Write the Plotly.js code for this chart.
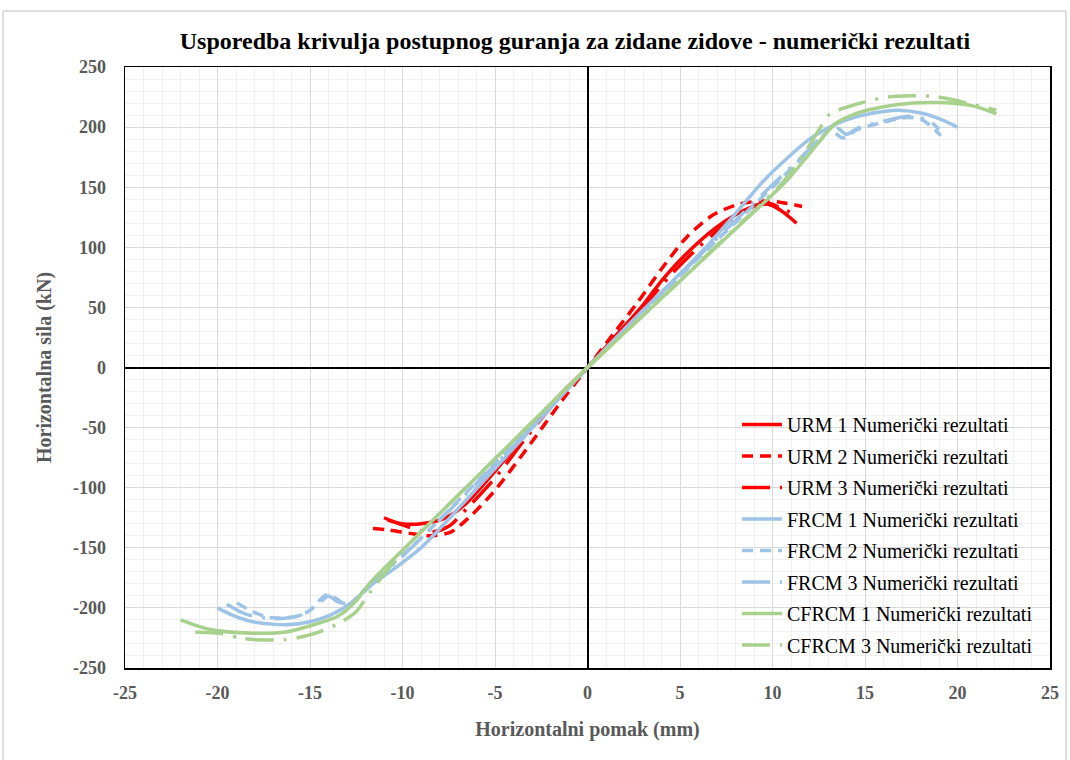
<!DOCTYPE html>
<html><head><meta charset="utf-8">
<script src="https://cdn.plot.ly/plotly-3.0.1.min.js"></script>
<style>html,body{margin:0;padding:0;background:#fff}</style>
</head><body><div id="chart" style="width:1070px;height:760px"></div>
<script>
// ---- Data (horizontal displacement mm, horizontal force kN) ----
const seriesNames = [
  'URM 1 Numerički rezultati', 'URM 2 Numerički rezultati', 'URM 3 Numerički rezultati',
  'FRCM 1 Numerički rezultati', 'FRCM 2 Numerički rezultati', 'FRCM 3 Numerički rezultati',
  'CFRCM 1 Numerički rezultati', 'CFRCM 3 Numerički rezultati'
];

const urm1X = [-10.8, -10, -9, -7.8, -6.7, -5.1, -3.3, -1.5, 0, 1.5, 3, 4.1, 5.5, 7, 8, 8.8, 9.7, 10.2, 10.6, 11.3];
const urm1Y = [-127, -130, -130, -126, -115, -88, -55, -23, 0, 26, 52, 74, 97, 117, 127, 133, 136, 133, 129, 120];

const urm2X = [-11.6, -10.8, -9.6, -8.5, -7.4, -6.35, -5.1, -3.3, -1.5, 0, 1.4, 2.7, 4.1, 5.4, 6.8, 8.2, 9.5, 10.4, 11.6];
const urm2Y = [-134, -135, -138, -140, -137, -124, -104, -68, -30, 0, 28, 54, 84, 109, 127, 136, 138.5, 137.5, 134];

const urm3X = [-11, -10, -8.5, -7.5, -6.5, -5, -3.3, -1.5, 0, 1.5, 3, 4.5, 6, 7.5, 8.5, 9.7, 10.4, 11.1];
const urm3Y = [-125, -131, -137, -132, -117, -92, -58, -24, 0, 25, 50, 77, 100, 120, 131, 137, 133, 128];

const frcm1X = [-20, -19.2, -18.1, -16.3, -15, -13.9, -12.8, -11.8, -10.5, -9, -6.9, -5, -2.5, 0, 2.5, 5, 6.4, 8, 9.5, 11, 12, 13.1, 14, 14.9, 16, 16.8, 18.1, 19, 20];
const frcm1Y = [-200, -206, -211.5, -214, -211.5, -206, -196, -182, -168, -150, -116, -84, -42, 0, 40, 78, 100, 128, 155, 177, 190, 200, 206, 210, 213, 214, 211.5, 207, 200];

const frcm2X = [-18.95, -18.1, -17.2, -15.7, -15, -14.1, -13.5, -13, -12, -10.5, -9, -7, -5, -2.5, 0, 2.5, 5, 7, 8.5, 10, 11.5, 12.5, 13.1, 13.8, 14.6, 16, 17.3, 18.1, 19.1];
const frcm2Y = [-196, -203, -208, -207, -202, -189, -193, -198, -184, -163, -142, -111, -80, -40, 0, 38, 76, 106, 128, 150, 173, 188, 198, 191, 198, 204, 208, 206, 193];

const frcm3X = [-19.5, -18.5, -17, -15.5, -14.5, -14, -13.5, -12.8, -11.5, -10, -8, -5, -2.5, 0, 2.5, 5, 7.5, 10, 11.5, 12.8, 13.5, 14, 14.6, 16, 17.5, 18.5, 19];
const frcm3Y = [-197, -205, -209, -206, -196, -190, -195, -196, -178, -157, -127, -81, -41, 0, 39, 77, 115, 152, 174, 194, 199, 194, 199, 205, 209, 205, 198];

const cfrcm1X = [-22, -20.4, -18.1, -16.3, -14.8, -13.5, -12.5, -11.8, -10, -7.5, -5, -2.5, 0, 2.5, 5, 7.5, 10.8, 12, 12.8, 13.4, 14.3, 15.1, 16, 17.6, 19, 20.1, 21, 22.1];
const cfrcm1Y = [-210, -218, -221, -220, -214, -207, -194, -180, -152, -114, -76, -38, 0, 36, 72, 108, 156, 178, 193, 203, 210, 214, 217, 220, 220.5, 219.5, 217, 211];

const cfrcm3X = [-21.2, -19.7, -18.8, -17.9, -16.4, -15.4, -14.5, -13.4, -12.5, -11.8, -10, -7.5, -5, -2.5, 0, 2.5, 5, 7.5, 10.5, 11.8, 12.6, 13.1, 14, 15, 16.2, 17.5, 18.8, 19.7, 20.5, 22.1];
const cfrcm3Y = [-220, -221.5, -225, -226.5, -226.5, -224, -220, -212.5, -203, -188, -153, -114, -76, -38, 0, 36, 72, 109, 153, 180, 200, 211, 216.5, 221, 225, 226, 225.5, 223, 220, 214];

const xTickVals = [-25, -20, -15, -10, -5, 0, 5, 10, 15, 20, 25];
const xTickText = ['-25', '-20', '-15', '-10', '-5', '0', '5', '10', '15', '20', '25'];
const yTickVals = [-250, -200, -150, -100, -50, 0, 50, 100, 150, 200, 250];
const yTickText = ['-250', '-200', '-150', '-100', '-50', '0', '50', '100', '150', '200', '250'];

const titleText = 'Usporedba krivulja postupnog guranja za zidane zidove - numerički rezultati';
const xTitle = 'Horizontalni pomak (mm)';
const yTitle = 'Horizontalna sila (kN)';

// ---- Styles ----
const RED = '#FF0000', BLUE = '#9DC3E6', GREEN = '#A9D18E';
const DASH = '11px,7px';
const LDD = '28px,10px,3px,10px';
const W = 3.5;

const seriesData = [
  [urm1X, urm1Y, RED, 'solid'],
  [urm2X, urm2Y, RED, DASH],
  [urm3X, urm3Y, RED, LDD],
  [frcm1X, frcm1Y, BLUE, 'solid'],
  [frcm2X, frcm2Y, BLUE, DASH],
  [frcm3X, frcm3Y, BLUE, LDD],
  [cfrcm1X, cfrcm1Y, GREEN, 'solid'],
  [cfrcm3X, cfrcm3Y, GREEN, LDD]
];

const traces = seriesData.map((s, i) => ({
  type: 'scatter', mode: 'lines', name: seriesNames[i], legendgroup: 'g' + i,
  x: s[0], y: s[1],
  line: {color: s[2], dash: s[3], width: W, shape: 'spline', smoothing: 0.8}
}));

const FONT = 'Liberation Serif, Times New Roman, serif';
const tickFont = {family: FONT, size: 18, color: '#595959', weight: 'bold'};
const axTitleFont = {family: FONT, size: 20, color: '#595959', weight: 'bold'};

const layout = {
  width: 1070, height: 760,
  margin: {l: 125, r: 20, t: 67, b: 92},
  paper_bgcolor: '#fff', plot_bgcolor: '#fff',
  showlegend: true,
  title: {text: titleText, font: {family: FONT, size: 24, color: '#000', weight: 'bold'},
          xref: 'paper', x: 0.4865, xanchor: 'center', yref: 'container', y: 0.947, yanchor: 'middle'},
  xaxis: {
    range: [-25, 25], tickmode: 'array', tickvals: xTickVals, ticktext: xTickText,
    tickfont: tickFont, ticks: '', ticklabelstandoff: 8,
    showgrid: true, gridcolor: '#D9D9D9', gridwidth: 1,
    minor: {tickmode: 'linear', tick0: 0, dtick: 1, showgrid: true, gridcolor: '#F0F0F0', gridwidth: 1, ticks: ''},
    zeroline: true, zerolinecolor: '#000', zerolinewidth: 2,
    showline: true, mirror: true, linecolor: '#000', linewidth: 1.5,
    title: {text: xTitle, font: axTitleFont, standoff: 20}
  },
  yaxis: {
    range: [-250, 250], tickmode: 'array', tickvals: yTickVals, ticktext: yTickText,
    tickfont: tickFont, ticks: '', ticklabelstandoff: 14,
    showgrid: true, gridcolor: '#D9D9D9', gridwidth: 1,
    minor: {tickmode: 'linear', tick0: 0, dtick: 10, showgrid: true, gridcolor: '#F0F0F0', gridwidth: 1, ticks: ''},
    zeroline: true, zerolinecolor: '#000', zerolinewidth: 2,
    showline: true, mirror: true, linecolor: '#000', linewidth: 1.5,
    title: {text: yTitle, font: axTitleFont, standoff: 16}
  },
  legend: {
    x: 0.6616, xanchor: 'left', y: 0.4376, yanchor: 'top',
    bgcolor: 'rgba(0,0,0,0)', borderwidth: 0,
    font: {family: FONT, size: 20, color: '#000'},
    itemwidth: 40, tracegroupgap: 2.5, traceorder: 'grouped'
  },
  shapes: [{
    type: 'rect', xref: 'paper', yref: 'paper', layer: 'below',
    x0: -0.1319, x1: 1.0173, y0: -0.25, y1: 1.0932,
    line: {color: '#BFBFBF', width: 1}, fillcolor: 'rgba(0,0,0,0)'
  }]
};

Plotly.newPlot('chart', traces, layout, {displayModeBar: false, staticPlot: true});
</script></body></html>
